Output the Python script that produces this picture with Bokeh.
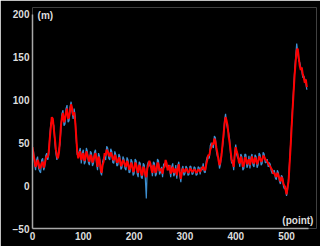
from bokeh.plotting import figure
from bokeh.models import Range1d, FixedTicker, Label
from bokeh.embed import file_html
from bokeh.resources import INLINE

x_points = list(range(0, 541, 2))

smoothed = [
    45, 36, 30, 22, 24, 30, 27, 20, 22, 26,
    28, 21, 25, 31, 35, 33, 40, 55, 68, 80,
    78, 66, 55, 42, 35, 32, 38, 52, 70, 80,
    85, 74, 78, 86, 90, 78, 80, 88, 95, 90,
    82, 86, 75, 58, 40, 32, 36, 40, 30, 34,
    38, 29, 32, 40, 36, 31, 28, 36, 34, 27,
    30, 35, 38, 30, 22, 34, 30, 20, 15, 24,
    28, 38, 35, 42, 40, 36, 34, 39, 36, 31,
    30, 36, 33, 27, 28, 33, 30, 23, 25, 30,
    28, 24, 22, 29, 26, 19, 20, 27, 24, 16,
    18, 27, 25, 18, 15, 24, 22, 14, 12, 22,
    20, 13, 10, 20, 24, 29, 26, 19, 15, 24,
    22, 15, 18, 27, 25, 17, 20, 18, 14, 21,
    22, 30, 26, 18, 20, 24, 14, 18, 22, 15,
    18, 20, 12, 19, 25, 16, 8, 15, 20, 16,
    17, 20, 18, 15, 16, 20, 19, 16, 17, 19,
    18, 15, 16, 19, 18, 16, 19, 21, 22, 19,
    18, 25, 30, 36, 35, 42, 45, 50, 48, 55,
    52, 44, 38, 30, 24, 28, 35, 48, 60, 72,
    80, 76, 70, 58, 50, 40, 30, 27, 22, 35,
    45, 40, 36, 28, 26, 34, 30, 22, 24, 33,
    32, 25, 28, 31, 24, 29, 34, 28, 26, 33,
    30, 25, 28, 34, 32, 28, 30, 35, 34, 31,
    30, 28, 26, 24, 22, 20, 18, 14, 15, 12,
    10, 15, 12, 8, 5, 10, 8, 2, 0, -4,
    -10, -2, 5, 25, 45, 68, 90, 110, 130, 145,
    158, 160, 150, 140, 135, 138, 130, 126, 120, 124,
    115]

raw = [
    40, 40, 26, 18, 30, 34, 20, 17, 15, 30,
    32, 18, 22, 35, 38, 30, 36, 58, 72, 76,
    74, 70, 50, 38, 30, 36, 42, 48, 66, 84,
    88, 70, 72, 90, 94, 74, 76, 92, 98, 86,
    78, 90, 80, 55, 36, 36, 40, 44, 26, 38,
    42, 25, 28, 44, 40, 27, 24, 40, 38, 23,
    26, 39, 42, 26, 18, 38, 34, 16, 12, 28,
    32, 34, 30, 46, 44, 32, 30, 43, 40, 27,
    26, 40, 36, 23, 24, 37, 34, 19, 21, 34,
    31, 20, 18, 33, 30, 15, 16, 31, 28, 12,
    14, 31, 29, 14, 10, 28, 26, 10, 8, 26,
    24, 9, -15, 24, 28, 25, 22, 23, 11, 28,
    26, 11, 14, 31, 29, 13, 16, 22, 10, 25,
    26, 26, 22, 22, 24, 20, 10, 22, 26, 11,
    14, 24, 8, 23, 28, 12, 4, 19, 23, 12,
    14, 23, 21, 12, 13, 23, 22, 13, 14, 22,
    21, 12, 13, 22, 21, 13, 22, 18, 26, 16,
    15, 29, 34, 32, 32, 47, 50, 46, 44, 58,
    56, 40, 34, 34, 20, 25, 38, 45, 56, 76,
    84, 72, 66, 62, 54, 36, 26, 30, 18, 38,
    48, 36, 32, 32, 22, 37, 34, 18, 20, 37,
    36, 21, 24, 35, 20, 33, 37, 24, 22, 36,
    34, 21, 24, 38, 36, 24, 26, 39, 37, 27,
    27, 31, 22, 27, 25, 17, 14, 17, 18, 9,
    7, 18, 15, 5, 2, 12, 10, -1, -4, -1,
    -12, -5, 8, 28, 48, 72, 92, 114, 134, 150,
    166, 156, 146, 144, 138, 134, 126, 128, 124, 120,
    112]

x_ticks = [0, 100, 200, 300, 400, 500]
y_ticks = [-50, 0, 50, 100, 150, 200]

p = figure(width=320, height=246, output_backend="svg", toolbar_location=None,
           x_range=Range1d(0, 559), y_range=Range1d(-50, 208),
           min_border_left=32, min_border_right=4, min_border_top=7, min_border_bottom=18,
           background_fill_color="black", border_fill_color="black")
p.outline_line_color = None
p.grid.visible = False

p.line(x_points, raw, line_color="#3d8fd1", line_width=1.2)
p.line(x_points, smoothed, line_color="#ff0000", line_width=2)

for ax in (p.xaxis[0], p.yaxis[0]):
    ax.axis_line_color = "#a8a8a8"
    ax.axis_line_width = 1.5
    ax.major_tick_line_color = None
    ax.minor_tick_line_color = None
    ax.major_tick_out = 0
    ax.major_tick_in = 0
    ax.major_label_text_color = "#dddddd"
    ax.major_label_text_font = "Liberation Sans"
    ax.major_label_text_font_style = "bold"
    ax.major_label_text_font_size = "10px"
    ax.major_label_standoff = 3

p.xaxis[0].ticker = FixedTicker(ticks=x_ticks)
p.yaxis[0].ticker = FixedTicker(ticks=y_ticks)
p.xaxis[0].bounds = (0, 544)
p.yaxis[0].bounds = (-50, 200)

p.add_layout(Label(x=10, y=199, text="(m)", text_color="#dddddd", text_font="Liberation Sans",
                   text_font_style="bold", text_font_size="10px", text_baseline="middle"))
p.add_layout(Label(x=553, y=-40.5, text="(point)", text_color="#dddddd", text_font="Liberation Sans",
                   text_font_style="bold", text_font_size="10px", text_baseline="middle",
                   text_align="right"))

open("out.html", "w").write(file_html(p, INLINE))
